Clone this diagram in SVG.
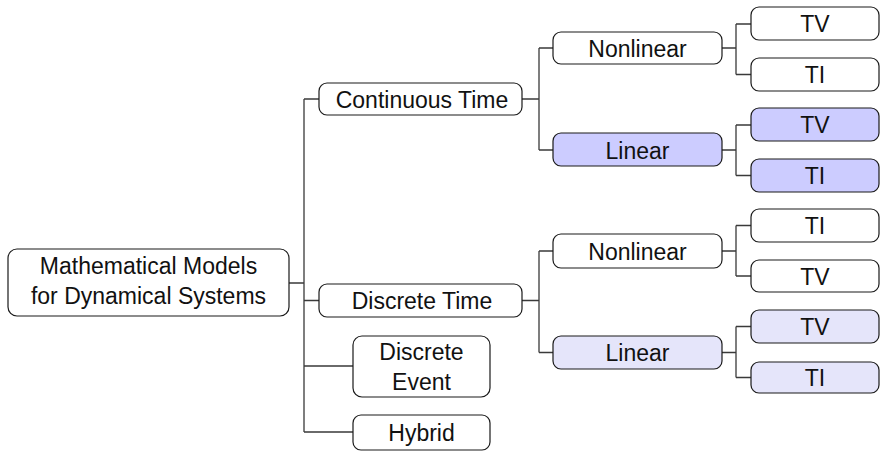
<svg xmlns="http://www.w3.org/2000/svg" width="881" height="452" viewBox="0 0 881 452">
<style>
.box{fill:#fff;stroke:#1a1a1a;stroke-width:1.2}
.l1{fill:#ccccff}
.l2{fill:#e5e5fa}
text{font-family:"Liberation Sans",Arial,sans-serif;font-size:23px;fill:#111;text-anchor:middle}
.c{fill:none;stroke:#3a3a3a;stroke-width:1.3}
</style>
<rect width="881" height="452" fill="#fff"/>
<g id="connectors">
<path class="c" d="M289 283H304M304 99V432M304 99H319M304 300.5H319M304 366H353M304 432H353"/>
<path class="c" d="M522 99H539M539 48V150M539 48H553M539 150H553"/>
<path class="c" d="M722 48H736M736 24V74.5M736 24H751M736 74.5H751"/>
<path class="c" d="M722 150H736M736 125V175.5M736 125H751M736 175.5H751"/>
<path class="c" d="M522 300.5H539M539 251V352.5M539 251H553M539 352.5H553"/>
<path class="c" d="M722 251H736M736 225.5V276M736 225.5H751M736 276H751"/>
<path class="c" d="M722 352.5H736M736 326.5V377.5M736 326.5H751M736 377.5H751"/>
</g>
<g id="root"><rect class="box" x="8" y="249" width="281" height="67" rx="9"/><text x="148.5" y="274">Mathematical Models</text><text x="148.5" y="304">for Dynamical Systems</text></g>
<g id="ct"><rect class="box" x="319" y="83" width="203" height="32" rx="8"/><text x="422" y="107.5">Continuous Time</text></g>
<g id="dt"><rect class="box" x="319" y="284" width="203" height="33" rx="8"/><text x="422" y="309">Discrete Time</text></g>
<g id="de"><rect class="box" x="353" y="336" width="137" height="61" rx="9"/><text x="421.5" y="360">Discrete</text><text x="421.5" y="390">Event</text></g>
<g id="hy"><rect class="box" x="353" y="415" width="137" height="35" rx="8"/><text x="421.5" y="440.5">Hybrid</text></g>
<g id="ct-nl"><rect class="box" x="553" y="32" width="169" height="32" rx="8"/><text x="637.5" y="56.5">Nonlinear</text></g>
<g id="ct-l"><rect class="box l1" x="553" y="133" width="169" height="33" rx="8"/><text x="637.5" y="158.5">Linear</text></g>
<g id="ct-nl-tv"><rect class="box" x="751" y="7" width="128" height="33" rx="8"/><text x="815" y="32">TV</text></g>
<g id="ct-nl-ti"><rect class="box" x="751" y="58" width="128" height="33" rx="8"/><text x="815" y="83">TI</text></g>
<g id="ct-l-tv"><rect class="box l1" x="751" y="108" width="128" height="33" rx="8"/><text x="815" y="133">TV</text></g>
<g id="ct-l-ti"><rect class="box l1" x="751" y="159" width="128" height="33" rx="8"/><text x="815" y="184">TI</text></g>
<g id="dt-nl"><rect class="box" x="553" y="234" width="169" height="34" rx="8"/><text x="637.5" y="259.5">Nonlinear</text></g>
<g id="dt-l"><rect class="box l2" x="553" y="336" width="169" height="33" rx="8"/><text x="637.5" y="361">Linear</text></g>
<g id="dt-nl-ti"><rect class="box" x="751" y="209" width="128" height="33" rx="8"/><text x="815" y="234">TI</text></g>
<g id="dt-nl-tv"><rect class="box" x="751" y="260" width="128" height="32" rx="8"/><text x="815" y="284.5">TV</text></g>
<g id="dt-l-tv"><rect class="box l2" x="751" y="310" width="128" height="33" rx="8"/><text x="815" y="335">TV</text></g>
<g id="dt-l-ti"><rect class="box l2" x="751" y="362" width="128" height="31" rx="8"/><text x="815" y="386">TI</text></g>
</svg>
